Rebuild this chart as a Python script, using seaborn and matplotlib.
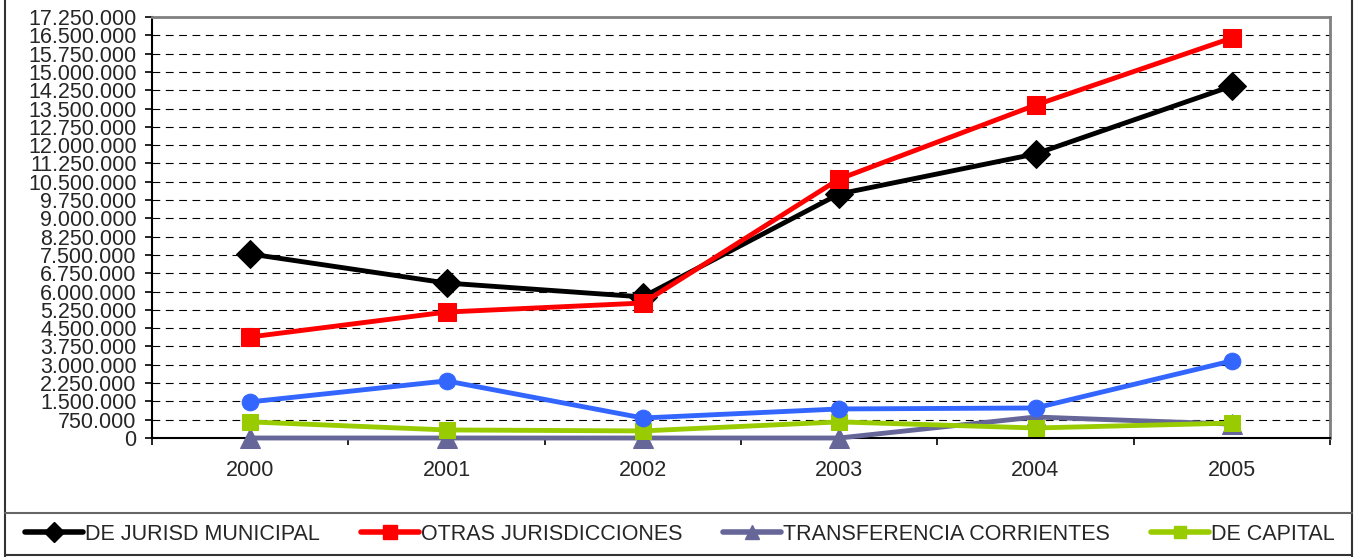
import seaborn as sns
import matplotlib.pyplot as plt
import matplotlib.lines as mlines
from matplotlib.ticker import FuncFormatter, MultipleLocator, FixedLocator
from matplotlib.patches import Rectangle

# ---------------- DATA ---------------- #
years = ["2000", "2001", "2002", "2003", "2004", "2005"]
jurisd_municipal = [7540000, 6350000, 5780000, 10000000, 11640000, 14420000]
otras_jurisdicciones = [4140000, 5160000, 5530000, 10610000, 13640000, 16390000]
transferencia_corrientes = [0, 0, 0, 0, 860000, 570000]
de_capital = [660000, 330000, 290000, 660000, 410000, 610000]
otros = [1480000, 2340000, 820000, 1190000, 1230000, 3160000]

series_names = ["DE JURISD MUNICIPAL", "OTRAS JURISDICCIONES",
                "TRANSFERENCIA CORRIENTES", "DE CAPITAL", "_nolegend_"]
series_values = [jurisd_municipal, otras_jurisdicciones,
                 transferencia_corrientes, de_capital, otros]
colors = ["#000000", "#FF0000", "#666699", "#99CC00", "#3366FF"]
markers = ["D", "s", "^", "s", "o"]
msizes = [14, 13, 14, 11, 12]

sns.set_style("white")
plt.rcParams["font.family"] = ["Liberation Sans", "DejaVu Sans"]

fig = plt.figure(figsize=(13.62, 5.57), dpi=100)
ax = fig.add_axes([152 / 1362, 1 - 438 / 557, (1330 - 152) / 1362, (438 - 17) / 557])

x = list(range(len(years)))
handles = []
for name, vals, c, m, ms in zip(series_names, series_values, colors, markers, msizes):
    sns.lineplot(x=x, y=vals, ax=ax, color=c, marker=m, markersize=ms,
                 markeredgecolor=c, linewidth=3.5, clip_on=False, zorder=3)
    handles.append(mlines.Line2D([], [], color=c, marker=m, markersize=ms * 0.75,
                                 markeredgecolor=c, linewidth=4, label=name))

# ---------------- AXES ---------------- #
ax.set_xlim(-0.5, 5.5)
ax.set_ylim(0, 17250000)
ax.yaxis.set_major_locator(MultipleLocator(750000))
ax.yaxis.set_major_formatter(FuncFormatter(lambda v, p: f"{v:,.0f}".replace(",", ".")))
ax.set_xticks(x)
ax.set_xticklabels(years)
ax.xaxis.set_minor_locator(FixedLocator([-0.5, 0.5, 1.5, 2.5, 3.5, 4.5, 5.5]))
ax.tick_params(axis="x", which="major", length=0, pad=16, labelsize=15.5)
ax.tick_params(axis="x", which="minor", length=5, width=1.2, color="#000000", direction="out")
ax.tick_params(axis="y", which="major", length=5, width=1.2, color="#000000",
               direction="out", labelsize=15.5, pad=6)
ax.tick_params(bottom=True, left=True, which="both")

ax.grid(axis="y", color="#000000", linestyle=(0, (7, 5)), linewidth=0.8, zorder=0)
ax.set_axisbelow(True)
for s in ["top", "right"]:
    ax.spines[s].set_color("#808080")
    ax.spines[s].set_linewidth(2)
for s in ["left", "bottom"]:
    ax.spines[s].set_color("#000000")
    ax.spines[s].set_linewidth(1.5)
ax.set_xlabel("")
ax.set_ylabel("")
if ax.get_legend():
    ax.get_legend().remove()

# ---------------- FRAME & LEGEND ---------------- #
fig.patches.append(Rectangle((5 / 1362, -0.01), (1352 - 5) / 1362, 1.05,
                             transform=fig.transFigure, fill=False,
                             edgecolor="#333333", linewidth=1.5))
fig.lines.append(mlines.Line2D([5 / 1362, 1352 / 1362], [1 - 513 / 557] * 2,
                               transform=fig.transFigure, color="#666666", linewidth=1.5))
fig.lines.append(mlines.Line2D([5 / 1362, 1352 / 1362], [1 - 555 / 557] * 2,
                               transform=fig.transFigure, color="#333333", linewidth=1.5))

leg_font = {"size": 15.5}
fig.legend(handles=handles[:2], loc="center left", bbox_to_anchor=(25 / 1362, 1 - 534 / 557),
           ncol=2, frameon=False, prop=leg_font, handlelength=2.7, handletextpad=0.1,
           columnspacing=1.9, borderaxespad=0, borderpad=0)
fig.legend(handles=handles[2:4], loc="center left", bbox_to_anchor=(723 / 1362, 1 - 534 / 557),
           ncol=2, frameon=False, prop=leg_font, handlelength=2.7, handletextpad=0.1,
           columnspacing=1.9, borderaxespad=0, borderpad=0)

fig.savefig("out.png", dpi=100)
